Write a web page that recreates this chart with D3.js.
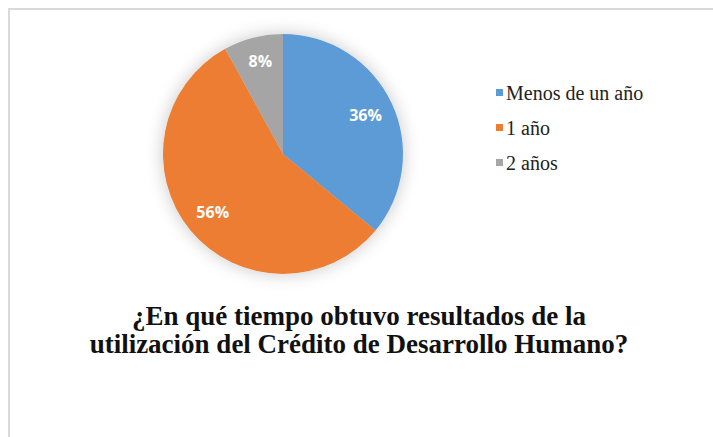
<!DOCTYPE html>
<html>
<head>
<meta charset="utf-8">
<script src="https://cdn.jsdelivr.net/npm/d3@7"></script>
<style>
  body { margin: 0; background: #fff; }
</style>
</head>
<body>
<div id="chart"></div>
<script>
// data
var categories = ["Menos de un año", "1 año", "2 años"];
var values = [36, 56, 8];
var colors = ["#5b9bd5", "#ed7d31", "#a5a5a5"];
var titleLines = ["¿En qué tiempo obtuvo resultados de la",
                  "utilización del Crédito de Desarrollo Humano?"];

var svgWidth = 713, svgHeight = 437;
var cx = 283, cy = 154, radius = 120;

var svg = d3.select("#chart")
  .append("svg")
  .attr("width", svgWidth)
  .attr("height", svgHeight);

// soft shadow like the office chart
var defs = svg.append("defs");
var filt = defs.append("filter")
  .attr("id", "glow")
  .attr("x", "-30%").attr("y", "-30%")
  .attr("width", "160%").attr("height", "160%");
filt.append("feGaussianBlur").attr("in", "SourceAlpha").attr("stdDeviation", 9).attr("result", "b");
filt.append("feComponentTransfer").attr("in", "b").attr("result", "s")
  .append("feFuncA").attr("type", "linear").attr("slope", 0.22);
var merge = filt.append("feMerge");
merge.append("feMergeNode").attr("in", "s");
merge.append("feMergeNode").attr("in", "SourceGraphic");

// frame
svg.append("rect")
  .attr("x", 9).attr("y", 9)
  .attr("width", svgWidth + 20).attr("height", svgHeight + 20)
  .attr("fill", "none")
  .attr("stroke", "#d9d9d9")
  .attr("stroke-width", 2);

var pie = d3.pie().sort(null).value(function(d) { return d; });
var arc = d3.arc().innerRadius(0).outerRadius(radius);
var labelArc = d3.arc().innerRadius(radius * 0.76).outerRadius(radius * 0.76);

var chart = svg.append("g")
  .attr("transform", "translate(" + cx + "," + cy + ")");

chart.append("g")
  .attr("filter", "url(#glow)")
  .selectAll("path")
  .data(pie(values))
  .enter().append("path")
    .attr("d", arc)
    .attr("fill", function(d, i) { return colors[i]; });

chart.selectAll("text.lbl")
  .data(pie(values))
  .enter().append("text")
    .attr("class", "lbl")
    .attr("transform", function(d) { return "translate(" + labelArc.centroid(d) + ")"; })
    .attr("text-anchor", "middle")
    .attr("dy", function(d, i) { return i == 2 ? "0.1em" : "0.36em"; })
    .style("font-family", "'Open Sans', sans-serif")
    .style("font-weight", "bold")
    .style("font-size", "16px")
    .attr("fill", "#fff")
    .text(function(d) { return d.data + "%"; });

// legend
var legend = svg.append("g")
  .attr("transform", "translate(496, 93)");

var rows = legend.selectAll("g")
  .data(categories)
  .enter().append("g")
    .attr("transform", function(d, i) { return "translate(0," + (i * 35) + ")"; });

rows.append("rect")
  .attr("x", 0).attr("y", -4)
  .attr("width", 7).attr("height", 7)
  .attr("fill", function(d, i) { return colors[i]; });

rows.append("text")
  .attr("x", 10)
  .attr("dy", "0.33em")
  .style("font-family", "'Liberation Serif', 'Times New Roman', serif")
  .style("font-size", "20px")
  .attr("fill", "#222")
  .text(function(d) { return d; });

// title
svg.append("g")
  .selectAll("text")
  .data(titleLines)
  .enter().append("text")
    .attr("x", 359)
    .attr("y", function(d, i) { return 325 + i * 28; })
    .attr("text-anchor", "middle")
    .style("font-family", "'Liberation Serif', 'Times New Roman', serif")
    .style("font-weight", "bold")
    .style("font-size", "27px")
    .attr("fill", "#111")
    .text(function(d) { return d; });
</script>
</body>
</html>
